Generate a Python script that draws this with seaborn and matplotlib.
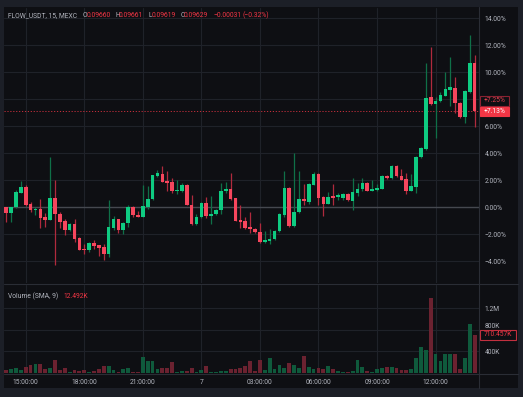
import numpy as np
import pandas as pd
import matplotlib
matplotlib.use("Agg")
import matplotlib.pyplot as plt
from matplotlib.patches import Rectangle
from matplotlib.lines import Line2D
import seaborn as sns

# ---------------- data (percent change vs. first open, 15-min candles) ----------------
opens = [0, -0.45, 0.0, 1.09, 1.48, 0.25, -0.2, -0.12, -0.74, -0.91,
         0.72, -0.5, -1.01, -1.68, -1.21, -2.3, -3.06, -3.16, -2.67, -2.8,
         -2.96, -3.46, -1.56, -0.86, -1.68, -1.18, 0.0, -0.57, -0.69, 0.0,
         0.59, 2.33, 2.47, 1.93, 1.85, 1.21, 1.23, 1.65, 0.17, -1.23,
         -0.74, 0.35, -0.64, -0.52, -0.2, 1.18, 1.36, 0.72, -0.94, -1.04,
         -1.43, -1.58, -1.8, -2.57, -2.47, -2.37, -1.75, -0.57, 1.46, -1.38,
         -0.37, 0.62, 0.42, 1.68, 2.47, 0.79, 0.27, 0.81, 0.77, 0.67,
         0.96, 0.49, 1.04, 1.33, 1.83, 1.23, 1.28, 1.36, 2.35, 2.17,
         3.09, 2.35, 2.1, 1.23, 1.53, 3.7, 4.32, 8.15, 7.68, 7.88,
         8.27, 8.69, 8.86, 7.73, 6.67, 8.57, 10.69]
highs = [0.05, 0.05, 1.28, 1.95, 1.65, 0.37, 0.0, 0.6, -0.4, 3.7,
         2.0, -0.37, -0.9, -1.18, -0.9, -2.22, -2.72, -2.6, -2.42, -2.8,
         -2.72, 0.54, -0.62, -0.86, -1.06, 0.17, 0.12, -0.27, 1.65, 1.58,
         2.4, 2.77, 3.08, 2.7, 2.15, 2.0, 1.8, 1.7, 0.91, -0.49,
         0.4, 0.77, 0.84, -0.1, 1.8, 1.88, 2.54, 0.72, 0.17, -0.69,
         -0.35, -1.53, -1.16, -1.73, -1.58, -1.65, -0.42, 2.67, 1.48, 4.0,
         2.69, 1.73, 1.78, 2.59, 2.52, 0.86, 1.11, 1.7, 1.04, 1.06,
         1.04, 2.17, 1.83, 2.17, 1.88, 2.0, 1.75, 2.42, 2.4, 3.14,
         3.14, 2.84, 2.52, 2.47, 3.83, 4.49, 10.69, 11.88, 8.2, 8.54,
         10.0, 11.11, 9.65, 7.83, 8.72, 12.77, 11.28]
lows = [-1.1, -1.1, -0.05, 1.05, 0.1, -0.35, -0.55, -1.5, -1.45, -0.95,
        -4.27, -1.55, -2.05, -1.73, -2.57, -3.2, -3.48, -3.28, -3.06, -3.58,
        -3.9, -3.7, -1.68, -1.88, -1.98, -1.43, -0.74, -0.72, -0.72, -0.15,
        0.54, 2.27, 1.85, 1.23, 1.04, 0.99, 1.11, 0.17, -1.28, -1.28,
        -0.79, -0.81, -1.23, -0.57, -0.49, 1.09, 0.54, -1.04, -1.56, -1.6,
        -1.88, -1.9, -2.62, -2.67, -2.72, -2.44, -1.8, -0.74, -1.43, -1.43,
        -0.42, 0.17, 0.27, 1.65, 0.17, -0.67, 0.22, 0.17, 0.54, 0.54,
        0.47, -0.22, 0.86, 1.23, 1.19, 1.19, 1.23, 1.33, 2.12, 2.1,
        2.22, 2.0, 0.99, 1.19, 1.09, 3.65, 4.27, 7.58, 5.16, 7.83,
        8.22, 7.51, 7.01, 6.59, 6.27, 8.44, 5.98]
closes = [-0.45, 0.0, 1.16, 1.48, 0.17, -0.2, -0.12, -0.77, -0.91, 0.72,
          -0.52, -1.06, -1.68, -1.23, -2.37, -3.16, -3.14, -2.67, -2.86, -2.99,
          -3.46, -1.48, -0.86, -1.68, -1.16, 0.0, -0.6, -0.69, 0.1, 0.62,
          2.4, 2.52, 1.88, 1.8, 1.23, 1.28, 1.65, 0.17, -1.23, -0.74,
          0.35, -0.64, -0.49, -0.2, 1.23, 1.36, 0.59, -0.99, -1.06, -1.53,
          -1.6, -1.85, -2.57, -2.42, -2.32, -1.73, -0.49, 1.46, -1.38, -0.32,
          0.62, 0.44, 1.7, 2.47, 0.72, 0.25, 0.74, 0.69, 0.91, 0.96,
          0.52, 1.11, 1.38, 1.83, 1.23, 1.36, 1.43, 2.35, 2.17, 3.09,
          2.35, 2.05, 1.23, 1.58, 3.73, 4.4, 8.12, 7.68, 7.88, 8.3,
          8.74, 8.89, 7.73, 6.67, 8.62, 10.69, 7.13]
volumes_k = [50, 74, 87, 50, 105, 143, 161, 161, 74, 99,
             248, 62, 99, 25, 50, 37, 50, 19, 43, 81,
             136, 124, 50, 19, 81, 99, 25, 25, 304, 217,
             217, 81, 99, 93, 198, 25, 31, 37, 99, 25,
             50, 136, 25, 19, 37, 37, 68, 81, 87, 124,
             217, 37, 236, 50, 285, 68, 143, 87, 192, 143,
             99, 310, 118, 68, 99, 74, 130, 74, 31, 12,
             12, 31, 236, 105, 31, 19, 74, 99, 105, 105,
             93, 56, 56, 74, 279, 484, 434, 1401, 360, 229,
             360, 360, 347, 68, 279, 911, 710]

time_tick_pos = [4, 16, 28, 40, 52, 64, 76, 88]
time_tick_labels = ["15:00:00", "18:00:00", "21:00:00", "7", "03:00:00",
                    "06:00:00", "09:00:00", "12:00:00"]
price_ticks = [-4, -2, 0, 2, 4, 6, 8, 10, 12, 14]
vol_ticks = [400e3, 800e3, 1.2e6]
vol_tick_labels = ["400K", "800K", "1.2M"]
last_pct = 7.13

# ---------------- styling ----------------
W, H = 523, 397
FRAME = "#1c1f27"
BG = "#0e0f13"
GRID = "#1f2229"
SEP = "#2a2d35"
GREEN = "#0ecb81"
RED = "#f6465d"
GREEN_WICK = "#0f7048"
RED_WICK = "#b02a3d"
VGREEN = "#0f5a3c"
VRED = "#6b2230"
TXT = "#b2b5be"
TRED = "#f23645"

sns.set_theme(style="dark")
plt.rcParams["font.family"] = ["Roboto", "DejaVu Sans"]


def fx(px):
    return px / W


def fy(py):
    return 1 - py / H


fig = plt.figure(figsize=(W / 100, H / 100), dpi=100, facecolor=FRAME)
fig.patches.append(Rectangle((fx(4), fy(388)), fx(518) - fx(4), fy(7) - fy(388),
                             transform=fig.transFigure, facecolor=BG,
                             edgecolor="none", zorder=-5))

axp = fig.add_axes([fx(4), fy(283), fx(479) - fx(4), fy(8) - fy(283)])
axv = fig.add_axes([fx(4), fy(373), fx(479) - fx(4), fy(285) - fy(373)])

df = pd.DataFrame({"open": opens, "high": highs, "low": lows, "close": closes,
                   "vol": np.array(volumes_k) * 1000.0})
df["idx"] = np.arange(len(df))
df["dir"] = np.where(df["close"] >= df["open"], "up", "down")
up = df["dir"] == "up"

# ---------------- price pane ----------------
axp.set_facecolor(BG)
axp.vlines(df["idx"], df["low"], df["high"],
           colors=np.where(up, GREEN_WICK, RED_WICK), lw=0.9, zorder=3)
body_bottom = np.minimum(df["open"], df["close"])
body_h = np.maximum(np.abs(df["close"] - df["open"]), 0.07)
axp.bar(df["idx"], body_h, bottom=body_bottom, width=0.74,
        color=np.where(up, GREEN, RED), linewidth=0, zorder=4)
axp.axhline(0, color="#45484f", lw=1.0, zorder=2)
axp.axhline(last_pct, color=TRED, lw=0.7, ls=(0, (1.2, 1.8)), zorder=2, alpha=0.8)

axp.set_xlim(-0.45, 96.9)
axp.set_ylim(-5.61, 14.76)
axp.set_xticks(time_tick_pos)
axp.set_xticklabels([])
axp.set_yticks(price_ticks)
axp.yaxis.tick_right()
# the 8.00% label sits under the last-price labels in the reference
axp.set_yticklabels(["" if t == 8 else ("\u2212" if t < 0 else "") + f"{abs(t):.2f}%"
                     for t in price_ticks], color=TXT, fontsize=4.9)
axp.tick_params(axis="both", length=0, pad=4)
axp.tick_params(axis="x", pad=0)
axp.grid(True, color=GRID, lw=0.8)
for s in axp.spines.values():
    s.set_visible(False)

# ---------------- volume pane ----------------
axv.set_facecolor(BG)
sns.barplot(data=df, x="idx", y="vol", hue="dir",
            palette={"up": VGREEN, "down": VRED}, native_scale=True,
            dodge=False, width=0.78, saturation=1, legend=False,
            linewidth=0, ax=axv, zorder=3)
axv.set_xlim(-0.45, 96.9)
axv.set_ylim(0, 1.637e6)
axv.set_xticks(time_tick_pos)
axv.set_xticklabels(time_tick_labels, color=TXT, fontsize=4.9)
axv.set_yticks(vol_ticks)
axv.yaxis.tick_right()
axv.set_yticklabels(vol_tick_labels, color=TXT, fontsize=4.9)
axv.tick_params(axis="both", length=0)
axv.tick_params(axis="y", pad=4)
axv.tick_params(axis="x", pad=4)
axv.set_xlabel("")
axv.set_ylabel("")
axv.grid(True, color=GRID, lw=0.8)
for s in axv.spines.values():
    s.set_visible(False)
# nudge 800K label up so the last-volume box leaves its top visible
for lab in axv.get_yticklabels():
    if lab.get_text() == "800K":
        lab.set_verticalalignment("bottom")

# ---------------- separators ----------------
for (x0, y0, x1, y1) in [(479, 7, 479, 388), (4, 373.5, 518, 373.5), (4, 284, 518, 284)]:
    fig.add_artist(Line2D([fx(x0), fx(x1)], [fy(y0), fy(y1)], transform=fig.transFigure,
                          color=SEP, lw=0.8, zorder=5))

# ---------------- header texts ----------------
hy = fy(15.8)
fig.text(fx(8), hy, "FLOW_USDT, 15, MEXC", color=TXT, fontsize=4.9, va="center")
pieces = [(82.5, "O", TXT), (86.5, "0.09660", TRED), (115.5, "H", TXT), (119, "0.09661", TRED),
          (148.5, "L", TXT), (151.7, "0.09619", TRED), (180.5, "C", TXT), (184, "0.09629", TRED),
          (213, "\u22120.00031", TRED), (242.5, "(\u22120.32%)", TRED)]
for x, s, c in pieces:
    fig.text(fx(x), hy, s, color=c, fontsize=4.9, va="center")

fig.text(fx(8), fy(296.7), "Volume (SMA, 9)", color=TXT, fontsize=4.9, va="center")
fig.text(fx(63.5), fy(296.7), "12.492K", color=TRED, fontsize=4.9, va="center")

# ---------------- price scale labels ----------------
def label_box(x0, y0, x1, y1, text, fc, ec, tc):
    fig.patches.append(Rectangle((fx(x0), fy(y1)), fx(x1) - fx(x0), fy(y0) - fy(y1),
                                 transform=fig.transFigure, facecolor=fc, edgecolor=ec,
                                 lw=0.8, zorder=6))
    fig.text(fx((x0 + x1) / 2), fy((y0 + y1) / 2), text, color=tc, fontsize=4.9,
             ha="center", va="center", zorder=7)

label_box(480, 96, 509, 105.5, "+7.25%", BG, "#8a2232", "#e0404f")
label_box(480, 106.5, 509, 116, "+7.13%", TRED, TRED, "white")
label_box(480, 330, 516, 340, "710.457K", BG, "#c2303f", TRED)

fig.savefig("out.png", dpi=100, facecolor=FRAME)
